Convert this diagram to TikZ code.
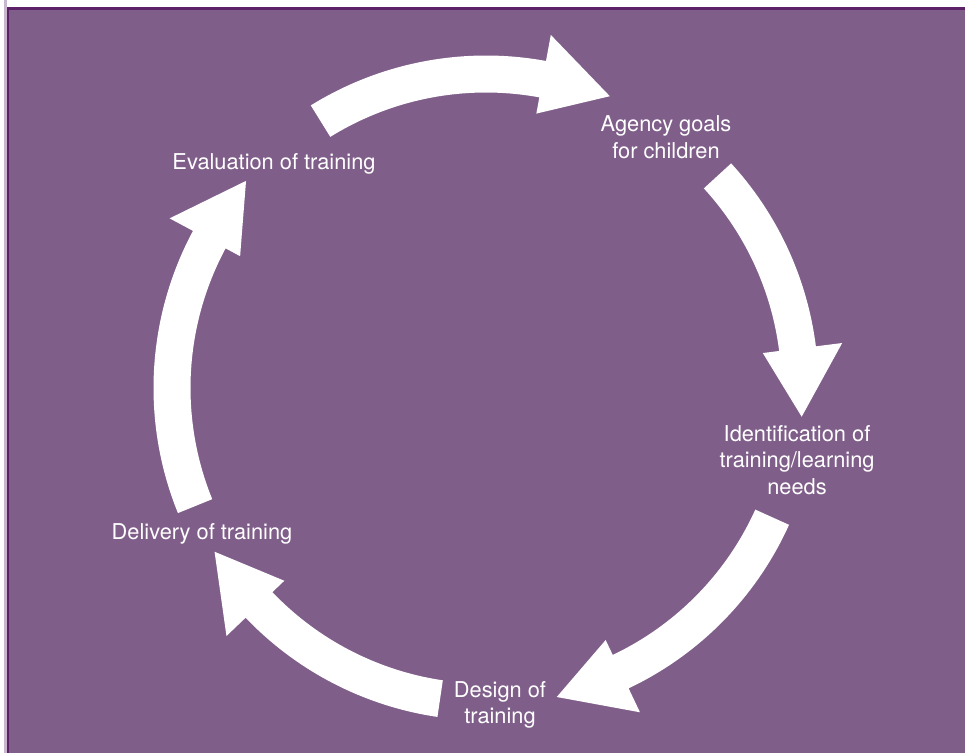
\documentclass[tikz,border=0pt]{standalone}
\usepackage{fontspec}
\setmainfont{TeX Gyre Heros}
\usetikzlibrary{positioning}
\definecolor{cyclebg}{HTML}{805E8A}
\definecolor{cycleedge}{HTML}{5C2166}
\definecolor{cyclestrip}{HTML}{C9B8CD}
\tikzset{stage/.style = {text=white, align=center, inner sep=0pt,
    font=\fontsize{21.8}{26.5}\selectfont}}

\begin{document}
\begin{tikzpicture}[x=1pt, y=1pt]
  \useasboundingbox (-486,-365) rectangle (479,388);
  \fill[cyclestrip] (-482,-365) rectangle (-479.3,388);
  \fill[cycleedge] (-479.3,-365) rectangle (479,381.3);
  \fill[cyclebg] (-477.3,-365) rectangle (479,378);
  % arrows: tail angle / head base angle / tip angle
  \foreach \ta/\ba/\pa in {121.8/79.6/67, 42.5/7.2/-5.2, -24.3/-64.6/-77.1,
      -98.4/-136.3/-148.9, 202.1/151.8/139.2}
    \fill[white] (\ta:332.5) arc[start angle=\ta, end angle=\ba, radius=332.5]
      -- (\ba:359) -- (\pa:317) -- (\ba:279) -- (\ba:295.5)
      arc[start angle=\ba, end angle=\ta, radius=295.5] -- cycle;
  \node[stage] (agency) at (180,251) {Agency goals\\for children};
  \node[stage] (needs) at (311,-72) {Identification of\\training/learning\\needs};
  \node[stage] (design) at (14,-317) {Design of\\training};
  \node[stage] (delivery) at (-284,-146) {Delivery of training};
  \node[stage] (evaluation) at (-212,224) {Evaluation of training};
\end{tikzpicture}
\end{document}
